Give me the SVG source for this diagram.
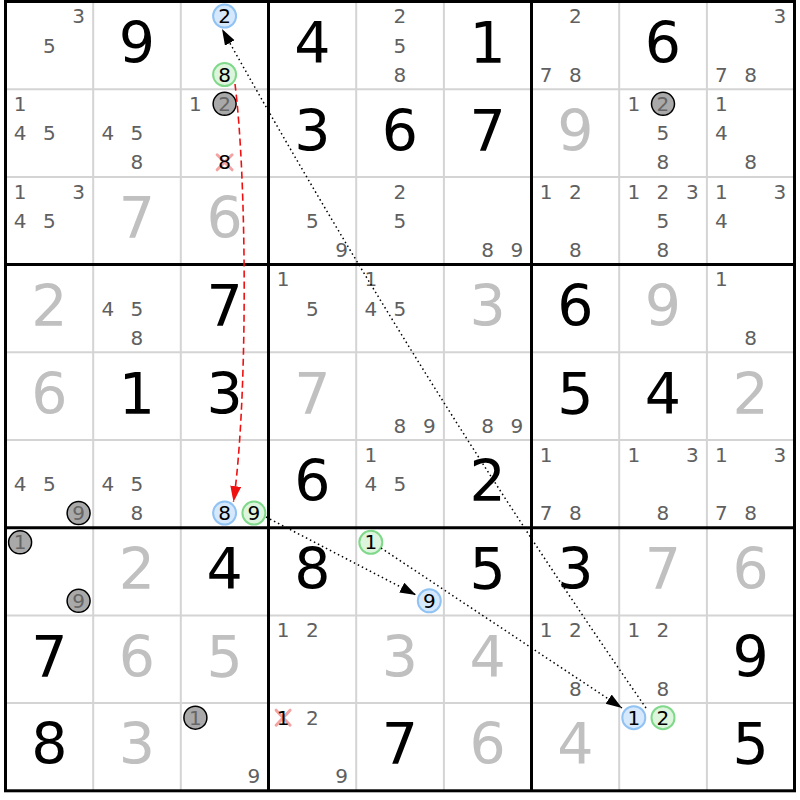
<svg xmlns="http://www.w3.org/2000/svg" width="800" height="800" viewBox="0 0 800 800">
<style>
text{font-family:"DejaVu Sans","Liberation Sans",sans-serif;text-anchor:middle}
.c{font-size:20px;fill:#606060}
.g{font-size:57px;fill:#000}
.s{font-size:57px;fill:#c0c0c0}
.k{font-size:20px;fill:#000}
.q{font-size:20px;fill:#666}
.hb{fill:#d6e8fb;stroke:#90c2f4;stroke-width:2}
.hg{fill:#dcf5dc;stroke:#80d98b;stroke-width:2}
.hx{fill:#a9a9a9;stroke:#000;stroke-width:1.5}
.x{stroke:#f4a3a3;stroke-width:3;stroke-linecap:round}
.thin{stroke:#d4d4d4;stroke-width:2}
.thick{stroke:#000;stroke-width:3}
.dot{fill:none;stroke:#000;stroke-width:1.5;stroke-dasharray:1.5 3}
.red{fill:none;stroke:#f01010;stroke-width:1.6;stroke-dasharray:7 4}
</style>
<defs>
<marker id="ab" markerUnits="userSpaceOnUse" markerWidth="17" markerHeight="12" refX="16" refY="5.5" orient="auto" viewBox="0 0 17 12"><path d="M0,0 L16,5.5 L0,11 z" fill="#000"/></marker>
<marker id="ar" markerUnits="userSpaceOnUse" markerWidth="17" markerHeight="12" refX="16" refY="5.5" orient="auto" viewBox="0 0 17 12"><path d="M0,0 L16,5.5 L0,11 z" fill="#f01010"/></marker>
</defs>
<rect width="800" height="800" fill="#fff"/>
<g id="grid">
<g class="thin">
<line x1="93.2" y1="1.5" x2="93.2" y2="790.8"/><line x1="180.8" y1="1.5" x2="180.8" y2="790.8"/>
<line x1="356.2" y1="1.5" x2="356.2" y2="790.8"/><line x1="443.9" y1="1.5" x2="443.9" y2="790.8"/>
<line x1="619.2" y1="1.5" x2="619.2" y2="790.8"/><line x1="706.9" y1="1.5" x2="706.9" y2="790.8"/>
<line x1="5.5" y1="89.2" x2="794.5" y2="89.2"/><line x1="5.5" y1="176.9" x2="794.5" y2="176.9"/>
<line x1="5.5" y1="352.3" x2="794.5" y2="352.3"/><line x1="5.5" y1="440" x2="794.5" y2="440"/>
<line x1="5.5" y1="615.4" x2="794.5" y2="615.4"/><line x1="5.5" y1="703.1" x2="794.5" y2="703.1"/>
</g>
<g class="thick">
<line x1="268.5" y1="1.5" x2="268.5" y2="790.8"/><line x1="531.5" y1="1.5" x2="531.5" y2="790.8"/>
<line x1="5.5" y1="264.6" x2="794.5" y2="264.6"/><line x1="5.5" y1="527.7" x2="794.5" y2="527.7"/>
<rect x="5.5" y="1.5" width="789" height="789.3" fill="none"/>
</g>
</g>
<g id="cells">
<!-- row 0 -->
<g id="r0c0" transform="translate(5.5,1.5)"><text class="c" x="73.1" y="21.8">3</text><text class="c" x="43.8" y="51.1">5</text></g>
<g id="r0c1" transform="translate(93.2,1.5)"><text class="g" x="43.8" y="61.4">9</text></g>
<g id="r0c2" transform="translate(180.8,1.5)"><circle class="hb" cx="43.8" cy="14.6" r="11.5"/><text class="k" x="43.8" y="21.8">2</text><circle class="hg" cx="43.8" cy="73.1" r="11.5"/><text class="k" x="43.8" y="80.3">8</text></g>
<g id="r0c3" transform="translate(268.5,1.5)"><text class="g" x="43.8" y="61.4">4</text></g>
<g id="r0c4" transform="translate(356.2,1.5)"><text class="c" x="43.8" y="21.8">2</text><text class="c" x="43.8" y="51.1">5</text><text class="c" x="43.8" y="80.3">8</text></g>
<g id="r0c5" transform="translate(443.9,1.5)"><text class="g" x="43.8" y="61.4">1</text></g>
<g id="r0c6" transform="translate(531.5,1.5)"><text class="c" x="43.8" y="21.8">2</text><text class="c" x="14.6" y="80.3">7</text><text class="c" x="43.8" y="80.3">8</text></g>
<g id="r0c7" transform="translate(619.2,1.5)"><text class="g" x="43.8" y="61.4">6</text></g>
<g id="r0c8" transform="translate(706.9,1.5)"><text class="c" x="73.1" y="21.8">3</text><text class="c" x="14.6" y="80.3">7</text><text class="c" x="43.8" y="80.3">8</text></g>
<!-- row 1 -->
<g id="r1c0" transform="translate(5.5,89.2)"><text class="c" x="14.6" y="21.8">1</text><text class="c" x="14.6" y="51.1">4</text><text class="c" x="43.8" y="51.1">5</text></g>
<g id="r1c1" transform="translate(93.2,89.2)"><text class="c" x="14.6" y="51.1">4</text><text class="c" x="43.8" y="51.1">5</text><text class="c" x="43.8" y="80.3">8</text></g>
<g id="r1c2" transform="translate(180.8,89.2)"><text class="c" x="14.6" y="21.8">1</text><circle class="hx" cx="43.8" cy="14.6" r="11.5"/><text class="q" x="43.8" y="21.8">2</text><path class="x" d="M36.3,65.6 L51.3,80.6 M51.3,65.6 L36.3,80.6"/><text class="k" x="43.8" y="80.3">8</text></g>
<g id="r1c3" transform="translate(268.5,89.2)"><text class="g" x="43.8" y="61.4">3</text></g>
<g id="r1c4" transform="translate(356.2,89.2)"><text class="g" x="43.8" y="61.4">6</text></g>
<g id="r1c5" transform="translate(443.9,89.2)"><text class="g" x="43.8" y="61.4">7</text></g>
<g id="r1c6" transform="translate(531.5,89.2)"><text class="s" x="43.8" y="61.4">9</text></g>
<g id="r1c7" transform="translate(619.2,89.2)"><text class="c" x="14.6" y="21.8">1</text><circle class="hx" cx="43.8" cy="14.6" r="11.5"/><text class="q" x="43.8" y="21.8">2</text><text class="c" x="43.8" y="51.1">5</text><text class="c" x="43.8" y="80.3">8</text></g>
<g id="r1c8" transform="translate(706.9,89.2)"><text class="c" x="14.6" y="21.8">1</text><text class="c" x="14.6" y="51.1">4</text><text class="c" x="43.8" y="80.3">8</text></g>
<!-- row 2 -->
<g id="r2c0" transform="translate(5.5,176.9)"><text class="c" x="14.6" y="21.8">1</text><text class="c" x="73.1" y="21.8">3</text><text class="c" x="14.6" y="51.1">4</text><text class="c" x="43.8" y="51.1">5</text></g>
<g id="r2c1" transform="translate(93.2,176.9)"><text class="s" x="43.8" y="61.4">7</text></g>
<g id="r2c2" transform="translate(180.8,176.9)"><text class="s" x="43.8" y="61.4">6</text></g>
<g id="r2c3" transform="translate(268.5,176.9)"><text class="c" x="43.8" y="51.1">5</text><text class="c" x="73.1" y="80.3">9</text></g>
<g id="r2c4" transform="translate(356.2,176.9)"><text class="c" x="43.8" y="21.8">2</text><text class="c" x="43.8" y="51.1">5</text></g>
<g id="r2c5" transform="translate(443.9,176.9)"><text class="c" x="43.8" y="80.3">8</text><text class="c" x="73.1" y="80.3">9</text></g>
<g id="r2c6" transform="translate(531.5,176.9)"><text class="c" x="14.6" y="21.8">1</text><text class="c" x="43.8" y="21.8">2</text><text class="c" x="43.8" y="80.3">8</text></g>
<g id="r2c7" transform="translate(619.2,176.9)"><text class="c" x="14.6" y="21.8">1</text><text class="c" x="43.8" y="21.8">2</text><text class="c" x="73.1" y="21.8">3</text><text class="c" x="43.8" y="51.1">5</text><text class="c" x="43.8" y="80.3">8</text></g>
<g id="r2c8" transform="translate(706.9,176.9)"><text class="c" x="14.6" y="21.8">1</text><text class="c" x="73.1" y="21.8">3</text><text class="c" x="14.6" y="51.1">4</text></g>
<!-- row 3 -->
<g id="r3c0" transform="translate(5.5,264.6)"><text class="s" x="43.8" y="61.4">2</text></g>
<g id="r3c1" transform="translate(93.2,264.6)"><text class="c" x="14.6" y="51.1">4</text><text class="c" x="43.8" y="51.1">5</text><text class="c" x="43.8" y="80.3">8</text></g>
<g id="r3c2" transform="translate(180.8,264.6)"><text class="g" x="43.8" y="61.4">7</text></g>
<g id="r3c3" transform="translate(268.5,264.6)"><text class="c" x="14.6" y="21.8">1</text><text class="c" x="43.8" y="51.1">5</text></g>
<g id="r3c4" transform="translate(356.2,264.6)"><text class="c" x="14.6" y="21.8">1</text><text class="c" x="14.6" y="51.1">4</text><text class="c" x="43.8" y="51.1">5</text></g>
<g id="r3c5" transform="translate(443.9,264.6)"><text class="s" x="43.8" y="61.4">3</text></g>
<g id="r3c6" transform="translate(531.5,264.6)"><text class="g" x="43.8" y="61.4">6</text></g>
<g id="r3c7" transform="translate(619.2,264.6)"><text class="s" x="43.8" y="61.4">9</text></g>
<g id="r3c8" transform="translate(706.9,264.6)"><text class="c" x="14.6" y="21.8">1</text><text class="c" x="43.8" y="80.3">8</text></g>
<!-- row 4 -->
<g id="r4c0" transform="translate(5.5,352.3)"><text class="s" x="43.8" y="61.4">6</text></g>
<g id="r4c1" transform="translate(93.2,352.3)"><text class="g" x="43.8" y="61.4">1</text></g>
<g id="r4c2" transform="translate(180.8,352.3)"><text class="g" x="43.8" y="61.4">3</text></g>
<g id="r4c3" transform="translate(268.5,352.3)"><text class="s" x="43.8" y="61.4">7</text></g>
<g id="r4c4" transform="translate(356.2,352.3)"><text class="c" x="43.8" y="80.3">8</text><text class="c" x="73.1" y="80.3">9</text></g>
<g id="r4c5" transform="translate(443.9,352.3)"><text class="c" x="43.8" y="80.3">8</text><text class="c" x="73.1" y="80.3">9</text></g>
<g id="r4c6" transform="translate(531.5,352.3)"><text class="g" x="43.8" y="61.4">5</text></g>
<g id="r4c7" transform="translate(619.2,352.3)"><text class="g" x="43.8" y="61.4">4</text></g>
<g id="r4c8" transform="translate(706.9,352.3)"><text class="s" x="43.8" y="61.4">2</text></g>
<!-- row 5 -->
<g id="r5c0" transform="translate(5.5,440)"><text class="c" x="14.6" y="51.1">4</text><text class="c" x="43.8" y="51.1">5</text><circle class="hx" cx="73.1" cy="73.1" r="11.5"/><text class="q" x="73.1" y="80.3">9</text></g>
<g id="r5c1" transform="translate(93.2,440)"><text class="c" x="14.6" y="51.1">4</text><text class="c" x="43.8" y="51.1">5</text><text class="c" x="43.8" y="80.3">8</text></g>
<g id="r5c2" transform="translate(180.8,440)"><circle class="hb" cx="43.8" cy="73.1" r="11.5"/><text class="k" x="43.8" y="80.3">8</text><circle class="hg" cx="73.1" cy="73.1" r="11.5"/><text class="k" x="73.1" y="80.3">9</text></g>
<g id="r5c3" transform="translate(268.5,440)"><text class="g" x="43.8" y="61.4">6</text></g>
<g id="r5c4" transform="translate(356.2,440)"><text class="c" x="14.6" y="21.8">1</text><text class="c" x="14.6" y="51.1">4</text><text class="c" x="43.8" y="51.1">5</text></g>
<g id="r5c5" transform="translate(443.9,440)"><text class="g" x="43.8" y="61.4">2</text></g>
<g id="r5c6" transform="translate(531.5,440)"><text class="c" x="14.6" y="21.8">1</text><text class="c" x="14.6" y="80.3">7</text><text class="c" x="43.8" y="80.3">8</text></g>
<g id="r5c7" transform="translate(619.2,440)"><text class="c" x="14.6" y="21.8">1</text><text class="c" x="73.1" y="21.8">3</text><text class="c" x="43.8" y="80.3">8</text></g>
<g id="r5c8" transform="translate(706.9,440)"><text class="c" x="14.6" y="21.8">1</text><text class="c" x="73.1" y="21.8">3</text><text class="c" x="14.6" y="80.3">7</text><text class="c" x="43.8" y="80.3">8</text></g>
<!-- row 6 -->
<g id="r6c0" transform="translate(5.5,527.7)"><circle class="hx" cx="14.6" cy="14.6" r="11.5"/><text class="q" x="14.6" y="21.8">1</text><circle class="hx" cx="73.1" cy="73.1" r="11.5"/><text class="q" x="73.1" y="80.3">9</text></g>
<g id="r6c1" transform="translate(93.2,527.7)"><text class="s" x="43.8" y="61.4">2</text></g>
<g id="r6c2" transform="translate(180.8,527.7)"><text class="g" x="43.8" y="61.4">4</text></g>
<g id="r6c3" transform="translate(268.5,527.7)"><text class="g" x="43.8" y="61.4">8</text></g>
<g id="r6c4" transform="translate(356.2,527.7)"><circle class="hg" cx="14.6" cy="14.6" r="11.5"/><text class="k" x="14.6" y="21.8">1</text><circle class="hb" cx="73.1" cy="73.1" r="11.5"/><text class="k" x="73.1" y="80.3">9</text></g>
<g id="r6c5" transform="translate(443.9,527.7)"><text class="g" x="43.8" y="61.4">5</text></g>
<g id="r6c6" transform="translate(531.5,527.7)"><text class="g" x="43.8" y="61.4">3</text></g>
<g id="r6c7" transform="translate(619.2,527.7)"><text class="s" x="43.8" y="61.4">7</text></g>
<g id="r6c8" transform="translate(706.9,527.7)"><text class="s" x="43.8" y="61.4">6</text></g>
<!-- row 7 -->
<g id="r7c0" transform="translate(5.5,615.4)"><text class="g" x="43.8" y="61.4">7</text></g>
<g id="r7c1" transform="translate(93.2,615.4)"><text class="s" x="43.8" y="61.4">6</text></g>
<g id="r7c2" transform="translate(180.8,615.4)"><text class="s" x="43.8" y="61.4">5</text></g>
<g id="r7c3" transform="translate(268.5,615.4)"><text class="c" x="14.6" y="21.8">1</text><text class="c" x="43.8" y="21.8">2</text></g>
<g id="r7c4" transform="translate(356.2,615.4)"><text class="s" x="43.8" y="61.4">3</text></g>
<g id="r7c5" transform="translate(443.9,615.4)"><text class="s" x="43.8" y="61.4">4</text></g>
<g id="r7c6" transform="translate(531.5,615.4)"><text class="c" x="14.6" y="21.8">1</text><text class="c" x="43.8" y="21.8">2</text><text class="c" x="43.8" y="80.3">8</text></g>
<g id="r7c7" transform="translate(619.2,615.4)"><text class="c" x="14.6" y="21.8">1</text><text class="c" x="43.8" y="21.8">2</text><text class="c" x="43.8" y="80.3">8</text></g>
<g id="r7c8" transform="translate(706.9,615.4)"><text class="g" x="43.8" y="61.4">9</text></g>
<!-- row 8 -->
<g id="r8c0" transform="translate(5.5,703.1)"><text class="g" x="43.8" y="61.4">8</text></g>
<g id="r8c1" transform="translate(93.2,703.1)"><text class="s" x="43.8" y="61.4">3</text></g>
<g id="r8c2" transform="translate(180.8,703.1)"><circle class="hx" cx="14.6" cy="14.6" r="11.5"/><text class="q" x="14.6" y="21.8">1</text><text class="c" x="73.1" y="80.3">9</text></g>
<g id="r8c3" transform="translate(268.5,703.1)"><path class="x" d="M7.6,7.1 L21.6,22.1 M21.6,7.1 L7.6,22.1"/><text class="k" x="14.6" y="21.8">1</text><text class="c" x="43.8" y="21.8">2</text><text class="c" x="73.1" y="80.3">9</text></g>
<g id="r8c4" transform="translate(356.2,703.1)"><text class="g" x="43.8" y="61.4">7</text></g>
<g id="r8c5" transform="translate(443.9,703.1)"><text class="s" x="43.8" y="61.4">6</text></g>
<g id="r8c6" transform="translate(531.5,703.1)"><text class="s" x="43.8" y="61.4">4</text></g>
<g id="r8c7" transform="translate(619.2,703.1)"><circle class="hb" cx="14.6" cy="14.6" r="11.5"/><text class="k" x="14.6" y="21.8">1</text><circle class="hg" cx="43.8" cy="14.6" r="11.5"/><text class="k" x="43.8" y="21.8">2</text></g>
<g id="r8c8" transform="translate(706.9,703.1)"><text class="g" x="43.8" y="61.4">5</text></g>
</g>
<g id="connectors">
<path class="red" d="M235,84 C247,180 248,400 233.5,502" marker-end="url(#ar)"/>
<path class="dot" d="M266,517 L416,595" marker-end="url(#ab)"/>
<path class="dot" d="M381,548 L622,708" marker-end="url(#ab)"/>
<path class="dot" d="M646,708 Q417,378 222,29" marker-end="url(#ab)"/>
</g>
</svg>
